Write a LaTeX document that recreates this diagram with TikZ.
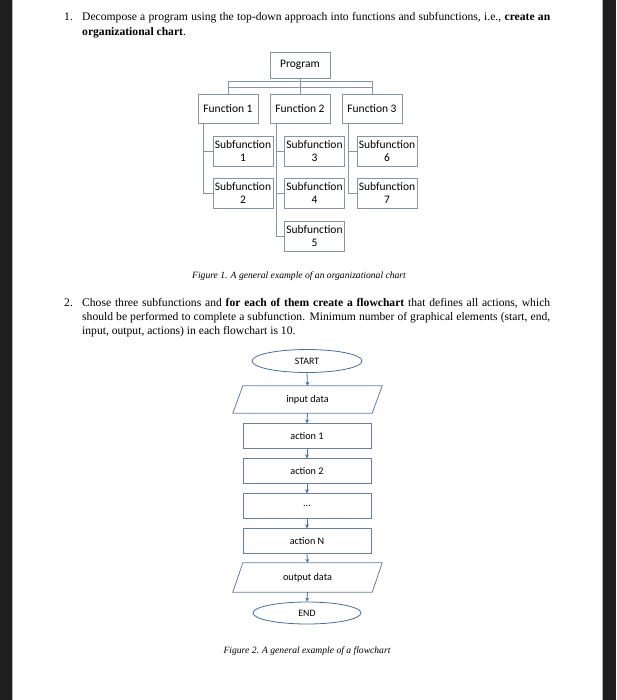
\documentclass[tikz,border=0pt]{standalone}
\usepackage{fontspec}
\setmainfont{Liberation Serif}
\newfontfamily\calibfont{Carlito}
\usetikzlibrary{arrows.meta,shapes.geometric}
\definecolor{orgc}{RGB}{132,148,172}
\definecolor{flowc}{RGB}{96,128,176}
\definecolor{ellc}{RGB}{70,110,165}
\definecolor{arrc}{RGB}{68,112,190}
\definecolor{darkbar}{RGB}{30,30,30}
\begin{document}
\begin{tikzpicture}[x=1pt,y=-1pt,
  body/.style={anchor=base west,inner sep=0,font=\fontsize{11.6}{14}\selectfont},
  capt/.style={anchor=base,inner sep=0,font=\fontsize{9.6}{11}\selectfont\itshape},
  orgbox/.style={draw=orgc,line width=0.8pt,fill=white,inner sep=0,align=center,
    font=\calibfont\fontsize{11.5}{12.5}\selectfont},
  funcbox/.style={orgbox,minimum width=60pt,minimum height=29pt},
  subbox/.style={orgbox,minimum width=60pt,minimum height=30pt},
  orgline/.style={draw=orgc,line width=0.8pt},
  flowtxt/.style={inner sep=0,font=\calibfont\fontsize{10.2}{11}\selectfont},
  actbox/.style={flowtxt,draw=flowc,line width=0.8pt,minimum width=128pt,minimum height=24.5pt},
  term/.style={ellipse,draw=ellc,line width=0.8pt,inner sep=0,
    font=\calibfont\fontsize{9.8}{10}\selectfont},
  iobox/.style={flowtxt,minimum width=149pt,minimum height=27pt},
  arr/.style={draw=arrc,line width=0.8pt,-{Stealth[length=4pt,width=4pt]}}
]
\useasboundingbox (0,0) rectangle (616,700);
\fill[white] (0,0) rectangle (616,700);
\fill[darkbar] (0,0) rectangle (12,700);
\fill[darkbar] (603,0) rectangle (616,700);
\draw[gray!60,line width=0.6pt] (12.3,0) -- (12.3,700);
\draw[gray!60,line width=0.6pt] (602.7,0) -- (602.7,700);

% ---- text item 1
\node[body] (n1) at (64,21) {1.};
\node[body] (t1a) at (82,21) {\makebox[468pt][s]{Decompose a program using the top-down approach into functions and subfunctions, i.e., \textbf{create an}}};
\node[body] (t1b) at (82,35.5) {\textbf{organizational chart}.};

% ---- org chart
\node[orgbox,minimum width=60pt,minimum height=26pt] (prog) at (300,65) {Program};
\node[funcbox] (f1) at (228,108.5) {Function 1};
\node[funcbox] (f2) at (300,108.5) {Function 2};
\node[funcbox] (f3) at (372,108.5) {Function 3};
\draw[orgline,fill=white] (228,81) rectangle (372,87);
\coordinate (barl) at (228,87);
\coordinate (barr) at (372,87);
\draw[orgline] (prog.south) -- (f2.north);
\draw[orgline] (barl) -- (f1.north);
\draw[orgline] (barr) -- (f3.north);

\node[subbox] (s1) at (243,151) {Subfunction\\1};
\node[subbox] (s2) at (243,193) {Subfunction\\2};
\node[subbox] (s3) at (314.5,151) {Subfunction\\3};
\node[subbox] (s4) at (314.5,193) {Subfunction\\4};
\node[subbox] (s5) at (314.5,236) {Subfunction\\5};
\node[subbox] (s6) at (387,151) {Subfunction\\6};
\node[subbox] (s7) at (387,193) {Subfunction\\7};

\draw[orgline] ([xshift=6pt]f1.south west) |- (s2.west);
\draw[orgline] ([xshift=6pt]f1.south west) |- (s1.west);
\draw[orgline] ([xshift=7pt]f2.south west) |- (s5.west);
\draw[orgline] ([xshift=7pt]f2.south west) |- (s4.west);
\draw[orgline] ([xshift=7pt]f2.south west) |- (s3.west);
\draw[orgline] ([xshift=7pt]f3.south west) |- (s7.west);
\draw[orgline] ([xshift=7pt]f3.south west) |- (s6.west);

\node[capt] (c1) at (299,278) {Figure 1. A general example of an organizational chart};

% ---- text item 2
\node[body] (n2) at (64,306) {2.};
\node[body] (t2a) at (82,306) {\makebox[468pt][s]{Chose three subfunctions and \textbf{for each of them create a flowchart} that defines all actions, which}};
\node[body] (t2b) at (82,320) {\makebox[468pt][s]{should be performed to complete a subfunction. Minimum number of graphical elements (start, end,}};
\node[body] (t2c) at (82,334) {input, output, actions) in each flowchart is 10.};

% ---- flowchart
\node[term,minimum width=110pt,minimum height=23pt] (start) at (307,361) {START};
\node[iobox] (in) at (307.5,399.5) {input data};
\draw[draw=flowc,line width=0.8pt] ([xshift=10pt]in.north west) -- (in.north east)
  -- ([xshift=-10pt]in.south east) -- (in.south west) -- cycle;
\node[actbox] (a1) at (307,436) {action 1};
\node[actbox] (a2) at (307,471) {action 2};
\node[actbox] (ad) at (307,506) {...};
\node[actbox] (an) at (307,541) {action N};
\node[iobox,minimum height=29pt] (out) at (307.5,577.5) {output data};
\draw[draw=flowc,line width=0.8pt] ([xshift=10pt]out.north west) -- (out.north east)
  -- ([xshift=-10pt]out.south east) -- (out.south west) -- cycle;
\node[term,minimum width=108pt,minimum height=22pt] (end) at (307,613) {END};

\draw[arr] (start.south) -- (in.north);
\draw[arr] (in.south) -- (a1.north);
\draw[arr] (a1.south) -- (a2.north);
\draw[arr] (a2.south) -- (ad.north);
\draw[arr] (ad.south) -- (an.north);
\draw[arr] (an.south) -- (out.north);
\draw[arr] (out.south) -- (end.north);

\node[capt] (c2) at (307,653) {Figure 2. A general example of a flowchart};
\end{tikzpicture}
\end{document}
